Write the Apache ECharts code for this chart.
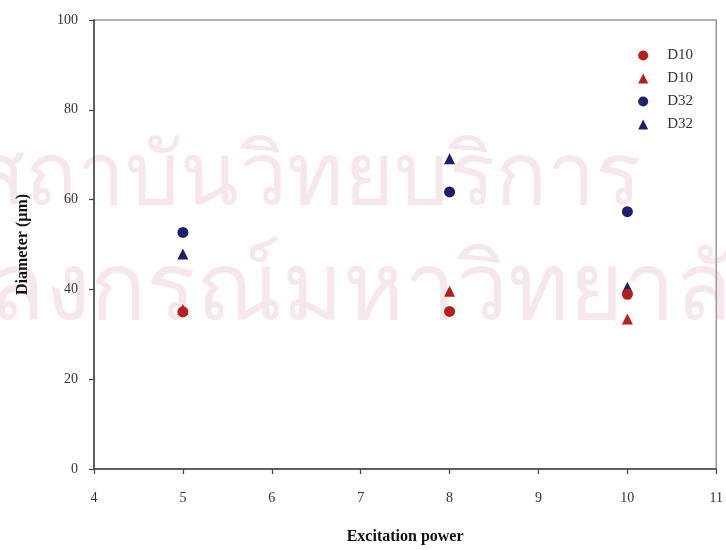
<!DOCTYPE html>
<html>
<head>
<meta charset="utf-8">
<script src="https://cdn.jsdelivr.net/npm/echarts@6/dist/echarts.min.js"></script>
<style>
  html, body { margin: 0; padding: 0; background: #ffffff; }
  #chart { width: 726px; height: 550px; }
</style>
</head>
<body>
<div id="chart"></div>
<script>
// Excitation power levels measured
const powers = [5, 8, 10];
// Droplet diameters (µm)
const d10Circle = [35.0, 35.1, 38.9];
const d10Triangle = [35.5, 39.6, 33.4];
const d32Circle = [52.7, 61.7, 57.3];
const d32Triangle = [47.9, 69.1, 40.5];
// Axis ticks
const xTicks = [4, 5, 6, 7, 8, 9, 10, 11];
const yTicks = [0, 20, 40, 60, 80, 100];
const legendNames = ['D10', 'D10', 'D32', 'D32'];

const RED = '#b3201f';
const BLUE = '#1e1f6c';
const SERIF = '"Liberation Serif", "Times New Roman", serif';
const MARK_FONT = '"Noto Sans", "DejaVu Sans", sans-serif';
const MARK_FILL = 'rgba(205,110,145,0.17)';

function pairs(vals) {
  return powers.map((p, i) => [p, vals[i]]);
}

const seriesDefs = [
  { key: 'D10-c', vals: d10Circle, symbol: 'circle', color: RED, z: 5 },
  { key: 'D10-t', vals: d10Triangle, symbol: 'triangle', color: RED, z: 4 },
  { key: 'D32-c', vals: d32Circle, symbol: 'circle', color: BLUE, z: 3 },
  { key: 'D32-t', vals: d32Triangle, symbol: 'triangle', color: BLUE, z: 2 }
];

const chart = echarts.init(document.getElementById('chart'), null, { renderer: 'canvas' });

chart.setOption({
  animation: false,
  backgroundColor: '#ffffff',
  graphic: [
    {
      type: 'text', left: -27, top: 136, z: -10, silent: true,
      style: { text: 'สถาบันวิทยบริการ', fontSize: 86, fill: MARK_FILL, fontFamily: MARK_FONT }
    },
    {
      type: 'text', left: -182, top: 246, z: -10, silent: true,
      style: { text: 'จุฬาลงกรณ์มหาวิทยาลัย', fontSize: 93, fill: MARK_FILL, fontFamily: MARK_FONT }
    }
  ],
  grid: {
    left: 94, right: 2, top: 20, bottom: 78,
    show: true, borderColor: '#9a9a9a', borderWidth: 1.5, backgroundColor: 'transparent'
  },
  legend: {
    orient: 'vertical',
    right: 28, top: 43,
    itemWidth: 10, itemHeight: 10, itemGap: 8,
    data: seriesDefs.map(s => ({ name: s.key, icon: s.symbol })),
    formatter: name => legendNames[seriesDefs.findIndex(s => s.key === name)],
    textStyle: { fontFamily: SERIF, fontSize: 15, color: '#333', padding: [0, 0, 0, 14] }
  },
  xAxis: {
    type: 'value', min: xTicks[0], max: xTicks[xTicks.length - 1], interval: 1,
    name: 'Excitation power', nameLocation: 'middle', nameGap: 60,
    nameTextStyle: { fontFamily: SERIF, fontSize: 16, fontWeight: 'bold', color: '#111' },
    axisLine: { lineStyle: { color: '#444', width: 1.5 } },
    axisTick: { length: 5, lineStyle: { color: '#444', width: 1.2 } },
    axisLabel: { margin: 22, fontFamily: SERIF, fontSize: 14, color: '#333' },
    splitLine: { show: false }
  },
  yAxis: {
    type: 'value', min: yTicks[0], max: yTicks[yTicks.length - 1], interval: 20,
    name: 'Diameter (µm)', nameLocation: 'middle', nameGap: 63,
    nameTextStyle: { fontFamily: SERIF, fontSize: 16, fontWeight: 'bold', color: '#111' },
    axisLine: { show: true, lineStyle: { color: '#444', width: 1.5 } },
    axisTick: { show: true, length: 5, lineStyle: { color: '#444', width: 1.2 } },
    axisLabel: { margin: 16, fontFamily: SERIF, fontSize: 14, color: '#333' },
    splitLine: { show: false }
  },
  series: seriesDefs.map(s => ({
    type: 'scatter',
    name: s.key,
    symbol: s.symbol,
    symbolSize: 11,
    z: s.z,
    itemStyle: { color: s.color, opacity: 1 },
    data: pairs(s.vals)
  }))
});
</script>
</body>
</html>
